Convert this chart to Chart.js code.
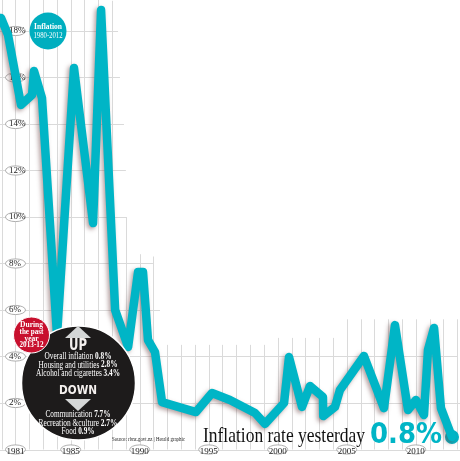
<!DOCTYPE html>
<html><head><meta charset="utf-8">
<style>html,body{margin:0;padding:0;background:#fff}canvas{display:block}</style>
<script src="https://cdn.jsdelivr.net/npm/chart.js@4"></script>
</head><body><canvas id="c" width="460" height="461"></canvas>
<script>
const years = [1979.95,1980.46,1981.40,1982.20,1982.34,1982.92,1984.01,1985.24,1986.62,1987.20,1988.22,1989.16,1989.88,1990.24,1990.60,1991.11,1991.62,1994.08,1995.24,1996.54,1998.36,1999.08,2000.46,2000.82,2001.76,2002.34,2003.28,2003.30,2004.15,2004.51,2006.25,2007.70,2008.50,2009.44,2010.02,2010.60,2010.89,2011.33,2011.83,2012.63];
const rates = [18.56,17.83,14.82,15.25,16.28,15.12,4.92,16.41,9.74,18.90,6.00,4.41,7.63,7.63,4.71,4.19,2.04,1.61,2.43,2.13,1.57,1.10,2.00,3.98,1.83,2.73,2.26,1.44,1.83,2.56,4.02,1.78,5.35,1.70,2.13,1.48,4.28,5.23,1.78,0.54];
const lastPoint = [{x:2012.63,y:0.54}];
const yTicks = [2,4,6,8,10,12,14,16,18];
const xTicks = [1981,1985,1990,1995,2000,2005,2010];
const gridYears = [1980,1981,1982,1983,1984,1985,1986,1987,1988,1989,1990,1991,1992,1993,1994,1995,1996,1997,1998,1999,2000,2001,2002,2003,2004,2005,2006,2007,2008,2009,2010,2011,2012,2013];
const gridYearTop = [19.4,19.4,19.4,19.4,19.4,19.4,19.4,19.4,19.3,10,8.4,8.3,4.5,4.5,4.5,4.5,4.5,4.5,4.5,4.5,4.8,4.8,4.8,4.8,4.8,5.6,5.6,5.6,5.6,5.6,5.6,5.6,5.6,5.6];
const gridValues = [0,2,4,6,8,10,12,14,16,18];
const gridValueEnd = [2014,2014,2013,1991.47,1990.96,1989.08,1989,1988.86,1988.57,1988.43];
const badgeTitle = ['Inflation','1980-2012'];
const redLines = ['During','the past','year','2013-12'];
const upLines = [['Overall inflation ','0.8%'],['Housing and utilities ','2.8%'],['Alcohol and cigarettes ','3.4%']];
const downLines = [['Communication ','7.7%'],['Recreation &culture ','2.7%'],['Food ','0.9%']];
const upWidths = [67,79,84];
const downWidths = [65,79,33];
const TEAL = '#00b5c6', SERIF = '"Liberation Serif", serif', SANS = '"DejaVu Sans", sans-serif';

const backdrop = { id:'backdrop', beforeDraw(ch){
  const c = ch.ctx, X = ch.scales.x, Y = ch.scales.y;
  c.save(); c.fillStyle='#fff'; c.fillRect(0,0,460,461);
  c.strokeStyle='#dadada'; c.lineWidth=1;
  gridYears.forEach((yr,i)=>{ const x=Math.round(X.getPixelForValue(yr))+.5;
    c.beginPath(); c.moveTo(x,Y.getPixelForValue(gridYearTop[i])); c.lineTo(x,Y.getPixelForValue(0)); c.stroke(); });
  gridValues.forEach((v,i)=>{ const y=Math.round(Y.getPixelForValue(v))+.5;
    c.beginPath(); c.moveTo(0,y); c.lineTo(X.getPixelForValue(gridValueEnd[i]),y); c.stroke(); });
  c.fillStyle='#fff'; c.strokeStyle='#9a9a9a'; c.lineWidth=.8;
  const ell=(x,y)=>{c.beginPath();c.ellipse(x,y,10,4.6,0,0,Math.PI*2);c.fill();c.stroke();};
  yTicks.forEach(v=>ell(X.getPixelForValue(1981),Y.getPixelForValue(v)));
  xTicks.forEach(v=>ell(X.getPixelForValue(v),Y.getPixelForValue(0)));
  c.restore();
}};
const shadow = { id:'shadow',
  beforeDatasetDraw(ch,a){ const c=ch.ctx; c.save(); if(a.index===0){c.shadowColor='rgba(110,70,70,.5)';c.shadowBlur=4;c.shadowOffsetX=-2;c.shadowOffsetY=2;} },
  afterDatasetDraw(ch){ ch.ctx.restore(); }
};
function circle(c,x,y,r,fill,border,bw){ c.beginPath();c.arc(x,y,r,0,Math.PI*2);c.fillStyle=fill;c.fill(); if(border){c.strokeStyle=border;c.lineWidth=bw;c.stroke();} }
function mixed(c,pair,cx,y,w){ const F=9.6; c.font=F+'px '+SERIF; const a=c.measureText(pair[0]).width; c.font='bold '+F+'px '+SERIF; const b=c.measureText(pair[1]).width;
  const k=w/(a+b), x=cx-w/2; c.textAlign='left'; c.font=F+'px '+SERIF; c.fillText(pair[0],x,y,a*k); c.font='bold '+F+'px '+SERIF; c.fillText(pair[1],x+a*k,y,b*k); }
function tri(c,x,y1,y2,h){ c.beginPath();c.moveTo(x,y1);c.lineTo(x-h,y2);c.lineTo(x+h,y2);c.closePath();c.fillStyle='#d4d6d6';c.fill(); }
const overlay = { id:'overlay', afterDraw(ch){
  const c=ch.ctx; c.save(); c.textBaseline='middle'; c.textAlign='center';
  circle(c,48,31,18.5,'#00aebf');
  c.fillStyle='#fff'; c.font='bold 7.5px '+SERIF; c.fillText(badgeTitle[0],48,27);
  c.font='7.5px '+SERIF; c.fillText(badgeTitle[1],48,36.5,29);
  circle(c,78.5,383,57,'#1d1b1b','#fff',1.5);
  circle(c,31.5,335,18,'#c8102e','#fff',1);
  c.fillStyle='#fff'; c.font='bold 7.5px '+SERIF;
  redLines.forEach((t,i)=>c.fillText(t,31.5,325+i*6.8,24));
  tri(c,78,326,338,13); tri(c,78,411,399,13);
  c.fillStyle='#f4f0ee'; c.font='bold 15px '+SANS; c.fillText('UP',78,346,18);
  c.font='bold 13px '+SANS; c.fillText('DOWN',78,391,38);
  c.fillStyle='#fff';
  upLines.forEach((p,i)=>mixed(c,p,78,356.5+i*8.5,upWidths[i]));
  downLines.forEach((p,i)=>mixed(c,p,78,414.5+i*8.7,downWidths[i]));
  c.textAlign='left'; c.fillStyle='#222'; c.font='5.6px '+SERIF;
  c.fillText('Source: rbnz.govt.nz | Herald graphic',112,440,73);
  c.textBaseline='alphabetic'; c.fillStyle='#111'; c.font='22px '+SERIF;
  c.fillText('Inflation rate yesterday',203,442,162);
  c.fillStyle=TEAL; c.font='bold 29px '+SANS; c.fillText('0.8%',370,443,72);
  c.restore();
}};
new Chart(document.getElementById('c'),{
  type:'line',
  data:{ datasets:[
    { data:years.map((x,i)=>({x,y:rates[i]})), borderColor:TEAL, borderWidth:8.5, pointRadius:0, tension:0, borderJoinStyle:'round', borderCapStyle:'round', fill:false, clip:false },
    { data:lastPoint, showLine:false, pointRadius:7, pointBackgroundColor:TEAL, pointBorderWidth:0, clip:false }
  ]},
  options:{ responsive:false, animation:false, events:[],
    layout:{autoPadding:false,padding:{left:0,right:0,top:0,bottom:11.5}},
    plugins:{legend:{display:false},tooltip:{enabled:false}},
    scales:{
      x:{ type:'linear', min:1979.877, max:2013.21, grid:{display:false,drawTicks:false}, border:{display:false},
          afterBuildTicks(s){s.ticks=xTicks.map(value=>({value}));},
          afterFit(s){s.height=0;s.paddingLeft=0;s.paddingRight=0;s.paddingTop=0;s.paddingBottom=0;},
          ticks:{mirror:true,padding:-8,maxRotation:0,autoSkip:false,color:'#222',font:{family:'Liberation Serif',size:9},callback:v=>String(v)} },
      y:{ type:'linear', min:0, max:19.333, grid:{display:false,drawTicks:false}, border:{display:false},
          afterBuildTicks(s){s.ticks=yTicks.map(value=>({value}));},
          afterFit(s){s.width=0;s.paddingLeft=0;s.paddingRight=0;s.paddingTop=0;s.paddingBottom=0;},
          ticks:{mirror:true,padding:9,color:'#222',font:{family:'Liberation Serif',size:9},callback:v=>v+'%'} }
    }
  },
  plugins:[backdrop,shadow,overlay]
});
</script></body></html>
